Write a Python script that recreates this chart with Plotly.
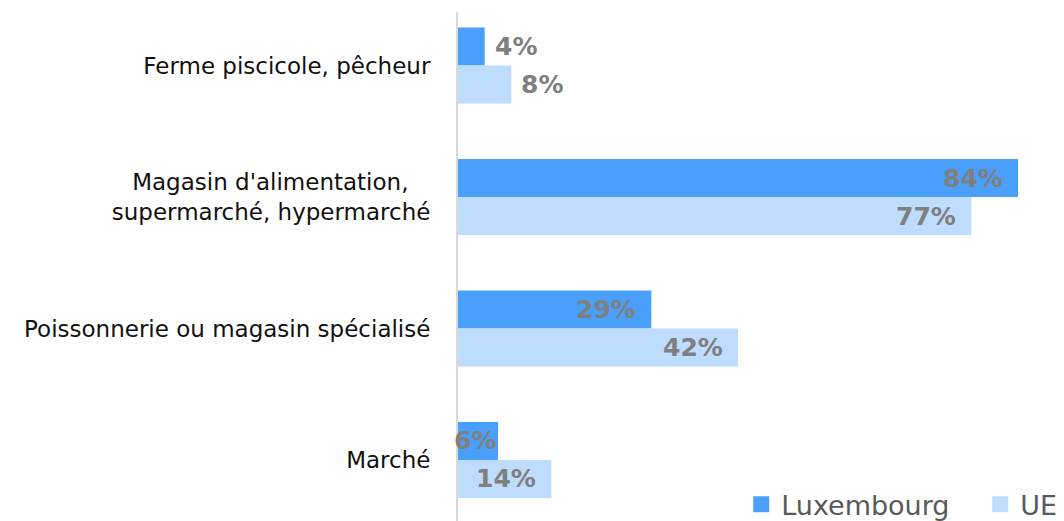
import plotly.graph_objects as go

categories = [
    "Ferme piscicole, pêcheur",
    "Magasin d'alimentation,\u00a0\u00a0\u00a0<br>supermarché, hypermarché",
    "Poissonnerie ou magasin spécialisé",
    "Marché",
]
series_names = ["Luxembourg", "UE"]
lux_values = [4, 84, 29, 6]
ue_values = [8, 77, 42, 14]
lux_label_pos = ["outside", "inside", "inside", "center"]
ue_label_pos = ["outside", "inside", "inside", "inside"]

colors = ["#4A9FFA", "#BEDCFD"]
label_color = "#7F7F7F"
BARGAP = 0.422
HALF = (1 - BARGAP) / 4  # offset of each bar center from category center

pos = list(range(len(categories)))

fig = go.Figure()
for name, vals, col in zip(series_names, [lux_values, ue_values], colors):
    fig.add_trace(go.Bar(
        y=pos, x=vals, orientation="h", name=name,
        marker=dict(color=col, line=dict(width=0)),
        showlegend=False, hoverinfo="skip",
    ))
# legend proxies (larger square symbols)
legend_names = [series_names[0] + "\u00a0\u00a0\u00a0", series_names[1]]
for name, col in zip(legend_names, colors):
    fig.add_trace(go.Scatter(
        x=[None], y=[None], mode="markers", name=name,
        marker=dict(symbol="square", size=19, color=col),
    ))

annotations = []
for vals, places, sign in [(lux_values, lux_label_pos, -1), (ue_values, ue_label_pos, 1)]:
    for i, (v, p) in enumerate(zip(vals, places)):
        yv = i + sign * HALF
        if p == "outside":
            a = dict(x=v, xanchor="left", xshift=8)
        elif p == "inside":
            a = dict(x=v, xanchor="right", xshift=-13)
        else:
            a = dict(x=v / 2, xanchor="center", xshift=-3)
        a.update(y=yv, xref="x", yref="y", text=f"{v}%", showarrow=False,
                 yanchor="middle",
                 font=dict(family="DejaVu Sans", size=25, color=label_color, weight="bold"))
        annotations.append(a)

fig.update_layout(
    width=1064, height=521,
    margin=dict(l=450, r=14, t=4, b=8, autoexpand=False),
    paper_bgcolor="white", plot_bgcolor="white",
    barmode="group", bargap=BARGAP, bargroupgap=0,
    annotations=annotations,
    xaxis=dict(range=[0, 90], visible=False, showgrid=False, zeroline=False),
    yaxis=dict(
        range=[3.464, -0.407], tickmode="array", tickvals=pos, ticktext=categories,
        showgrid=False, zeroline=False, showline=True, linecolor="#D9D9D9", linewidth=2,
        ticks="", ticklabelstandoff=21,
        tickfont=dict(family="DejaVu Sans", size=23, color="#111111"),
    ),
    legend=dict(
        orientation="h", x=1.007, xanchor="right", y=-0.016, yanchor="bottom",
        font=dict(family="DejaVu Sans", size=27, color="#595959"),
        bgcolor="rgba(0,0,0,0)", itemwidth=30, tracegroupgap=0,
    ),
    showlegend=True,
)

fig.write_html("out.html")
